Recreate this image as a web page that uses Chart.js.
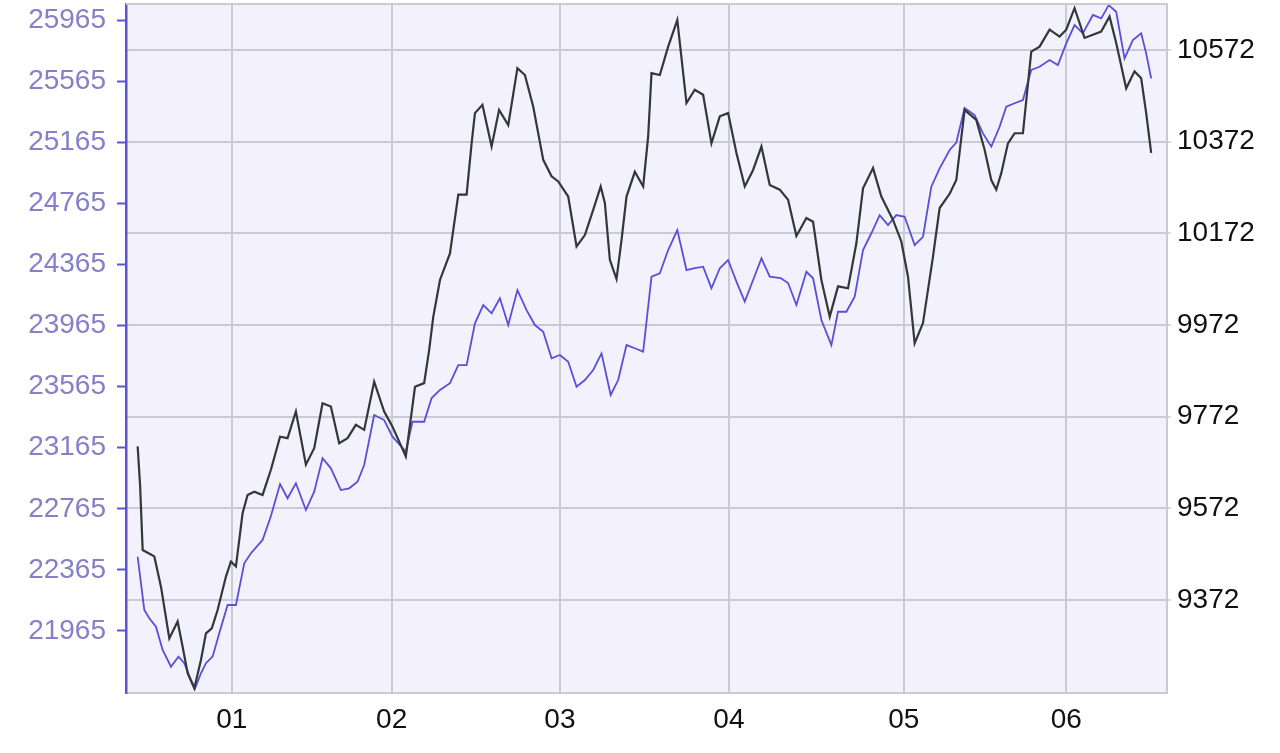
<!DOCTYPE html>
<html>
<head>
<meta charset="utf-8">
<script src="https://cdn.jsdelivr.net/npm/chart.js@4/dist/chart.umd.min.js"></script>
<style>
  html, body { margin: 0; padding: 0; background: #fff; }
  #wrap { width: 1280px; height: 753px; }
</style>
</head>
<body>
<div id="wrap"><canvas id="myChart" width="1280" height="753"></canvas></div>
<script>
// trading day index (0 = first day shown) and index levels
const blackDays = [0, 0.3, 0.6, 1.2, 2.0, 2.8, 3.8, 4.8, 5.4, 6.0, 6.8, 7.6, 8.2, 8.9, 9.6, 10.6, 11.2, 11.8, 12.6, 13.2,
  14.0, 15.0, 16.0, 17.1, 18.0, 19.0, 20.2, 21.2, 22.2, 23.2, 24.2, 25.2, 26.2, 27.2, 28.4, 29.6, 30.6, 32.2, 33.3, 34.4,
  35.0, 35.5, 36.3, 37.5, 38.5, 39.5, 40.1, 40.5, 41.4, 42.5, 43.4, 44.5, 45.6, 46.5, 47.5, 48.7, 49.7, 50.5, 51.7, 52.7,
  53.7, 54.7, 55.6, 56.1, 56.7, 57.5, 58.1, 58.7, 59.7, 60.7, 61.3, 61.7, 62.7, 63.7, 64.8, 65.9, 66.9, 67.9, 68.9, 69.9,
  70.9, 71.9, 72.9, 73.9, 74.9, 75.9, 77.1, 78.1, 79.1, 80.3, 81.1, 82.1, 83.1, 84.1, 85.3, 86.3, 87.1, 88.3, 89.3, 90.7,
  91.7, 92.5, 93.3, 94.3, 95.5, 96.3, 97.5, 98.3, 99.3, 100.7, 101.7, 102.5, 103.1, 103.7, 104.5, 105.3, 106.3, 107.3, 108.3, 109.5,
  110.7, 111.5, 112.5, 113.7, 114.7, 115.7, 116.7, 117.5, 118.7, 119.7, 120.5, 121.1, 121.7];
const blackValues = [9707, 9619, 9481, 9475, 9467, 9401, 9288, 9325, 9270, 9212, 9179, 9241, 9299, 9310, 9350, 9423, 9456, 9445, 9561, 9601,
  9608, 9601, 9656, 9728, 9725, 9783, 9667, 9703, 9801, 9794, 9714, 9725, 9754, 9743, 9848, 9783, 9750, 9685, 9837, 9845,
  9917, 9990, 10070, 10128, 10256, 10256, 10368, 10434, 10452, 10361, 10441, 10408, 10532, 10517, 10448, 10332, 10296, 10285, 10252, 10143,
  10168, 10223, 10274, 10238, 10114, 10072, 10157, 10252, 10306, 10274, 10383, 10521, 10517, 10579, 10637, 10456, 10485, 10474, 10368, 10427,
  10434, 10347, 10274, 10310, 10361, 10277, 10267, 10245, 10166, 10205, 10197, 10070, 9990, 10056, 10052, 10150, 10270, 10314, 10252, 10201,
  10154, 10077, 9932, 9976, 10121, 10227, 10258, 10288, 10441, 10419, 10354, 10288, 10267, 10303, 10368, 10390, 10390, 10568, 10579, 10616,
  10601, 10616, 10663, 10598, 10605, 10612, 10645, 10587, 10488, 10525, 10510, 10434, 10347];

const blueDays = [0, 0.4, 0.8, 1.4, 2.2, 3.0, 4.0, 4.9, 5.6, 6.4, 6.9, 7.6, 8.2, 9.0, 9.8, 10.8, 11.8, 12.8, 13.6, 15.0,
  16.0, 17.1, 18.0, 19.0, 20.2, 21.2, 22.2, 23.2, 24.4, 25.4, 26.4, 27.2, 28.4, 29.6, 30.6, 32.2, 33.0, 34.4, 35.3, 36.3,
  37.5, 38.5, 39.5, 40.5, 41.5, 42.5, 43.5, 44.5, 45.6, 46.7, 47.7, 48.7, 49.7, 50.7, 51.7, 52.7, 53.7, 54.7, 55.7, 56.8,
  57.7, 58.7, 59.7, 60.7, 61.7, 62.7, 63.7, 64.8, 65.9, 66.9, 67.9, 68.9, 69.9, 70.9, 71.9, 72.9, 73.9, 74.9, 75.9, 77.2,
  78.1, 79.1, 80.3, 81.1, 82.1, 83.3, 84.1, 85.1, 86.1, 87.1, 88.1, 89.1, 90.1, 91.1, 92.1, 93.3, 94.3, 95.3, 96.3, 97.5,
  98.3, 99.3, 100.5, 101.5, 102.5, 103.5, 104.3, 105.3, 106.3, 107.3, 108.3, 109.5, 110.5, 111.5, 112.5, 113.5, 114.7, 115.7, 116.6, 117.5,
  118.5, 119.5, 120.5, 121.1, 121.7];
const blueValues = [22451, 22277, 22102, 22048, 21993, 21841, 21731, 21797, 21754, 21644, 21590, 21688, 21754, 21797, 21950, 22135, 22135, 22408, 22474, 22561,
  22718, 22927, 22834, 22932, 22757, 22877, 23096, 23030, 22888, 22899, 22942, 23052, 23379, 23346, 23237, 23139, 23335, 23335, 23490, 23543,
  23587, 23706, 23706, 23979, 24099, 24045, 24143, 23968, 24197, 24066, 23968, 23924, 23750, 23772, 23728, 23564, 23608, 23674, 23783, 23510,
  23608, 23837, 23816, 23794, 24285, 24307, 24459, 24590, 24328, 24340, 24350, 24209, 24340, 24394, 24252, 24121, 24263, 24405, 24285, 24276,
  24243, 24099, 24317, 24274, 24001, 23837, 24055, 24055, 24154, 24459, 24569, 24688, 24623, 24688, 24677, 24492, 24546, 24874, 24994, 25114,
  25163, 25389, 25343, 25223, 25136, 25266, 25397, 25420, 25441, 25638, 25659, 25703, 25670, 25812, 25932, 25878, 25998, 25976, 26063, 26019,
  25714, 25834, 25878, 25747, 25583];

// month starts on the x axis
const monthDays = [11.3, 30.5, 50.7, 71.0, 92.0, 111.5];
const monthLabels = ['01', '02', '03', '04', '05', '06'];

// tick labels
const leftTicks = [21965, 22365, 22765, 23165, 23565, 23965, 24365, 24765, 25165, 25565, 25965];
const rightTicks = [9372, 9572, 9772, 9972, 10172, 10372, 10572];

const toPoints = (xs, ys) => xs.map((x, i) => ({ x: x, y: ys[i] }));

const fontFamily = '"Liberation Sans", Arial, sans-serif';
const gridGray = '#cacad4';
const axisBlue = '#5b52d8';

// no extra room for half labels: the plot runs to the top edge
const noPad = s => { s.paddingTop = 0; s.paddingBottom = 0; };

// lavender plot background and the top border
const plotFrame = {
	id: 'plotFrame',
	beforeDraw(chart) {
		const { ctx, chartArea: a } = chart;
		ctx.save();
		ctx.fillStyle = '#f3f1fb';
		ctx.fillRect(a.left, a.top, a.right - a.left, a.bottom - a.top);
		ctx.restore();
	},
	afterDraw(chart) {
		const { ctx, chartArea: a } = chart;
		ctx.save();
		ctx.strokeStyle = gridGray;
		ctx.lineWidth = 2;
		ctx.beginPath();
		ctx.moveTo(a.left, a.top);
		ctx.lineTo(a.right, a.top);
		ctx.stroke();
		ctx.restore();
	}
};

const data = {
	datasets: [{
		label: 'black',
		data: toPoints(blackDays, blackValues),
		yAxisID: 'yRight',
		borderColor: '#303838',
		borderWidth: 2.2,
		pointRadius: 0,
		tension: 0,
		clip: false
	}, {
		label: 'blue',
		data: toPoints(blueDays, blueValues),
		yAxisID: 'yLeft',
		borderColor: '#5a4fd8',
		borderWidth: 1.8,
		pointRadius: 0,
		tension: 0,
		clip: false
	}]
};

const viewChart = {
	type: 'line',
	data: data,
	plugins: [plotFrame],
	options: {
		responsive: false,
		animation: false,
		layout: { padding: { top: 4, left: 0, right: 0, bottom: 0 } },
		plugins: { legend: { display: false }, tooltip: { enabled: false } },
		scales: {
			x: {
				type: 'linear',
				min: -1.4,
				max: 123.6,
				afterBuildTicks: s => { s.ticks = monthDays.map(v => ({ value: v })); },
				afterFit: s => { s.height = 60; s.paddingLeft = 0; s.paddingRight = 0; },
				ticks: {
					autoSkip: false,
					maxRotation: 0,
					padding: 10,
					color: '#111',
					font: { family: fontFamily, size: 28 },
					callback: (v, i) => monthLabels[i]
				},
				grid: { color: gridGray, lineWidth: 2, drawTicks: false },
				border: { color: gridGray, width: 2 }
			},
			yLeft: {
				type: 'linear',
				position: 'left',
				min: 21559,
				max: 26070,
				afterBuildTicks: s => { s.ticks = leftTicks.map(v => ({ value: v })); },
				afterFit: s => { s.width = 126; noPad(s); },
				ticks: {
					padding: 11,
					color: '#8580c8',
					font: { family: fontFamily, size: 28 },
					callback: v => String(v)
				},
				grid: { drawOnChartArea: false, drawTicks: true, tickLength: 9, tickColor: axisBlue, tickWidth: 2 },
				border: { color: axisBlue, width: 2.5 }
			},
			yRight: {
				type: 'linear',
				position: 'right',
				min: 9169,
				max: 10672,
				afterBuildTicks: s => { s.ticks = rightTicks.map(v => ({ value: v })); },
				afterFit: s => { s.width = 113; noPad(s); },
				ticks: {
					padding: 6,
					color: '#111',
					font: { family: fontFamily, size: 28 },
					callback: v => String(v)
				},
				grid: { color: gridGray, lineWidth: 2, tickLength: 4, tickColor: '#dadae0' },
				border: { color: gridGray, width: 2 }
			}
		}
	}
};

const chart = document.getElementById('myChart');
const myChart = new Chart(chart, viewChart);
</script>
</body>
</html>
